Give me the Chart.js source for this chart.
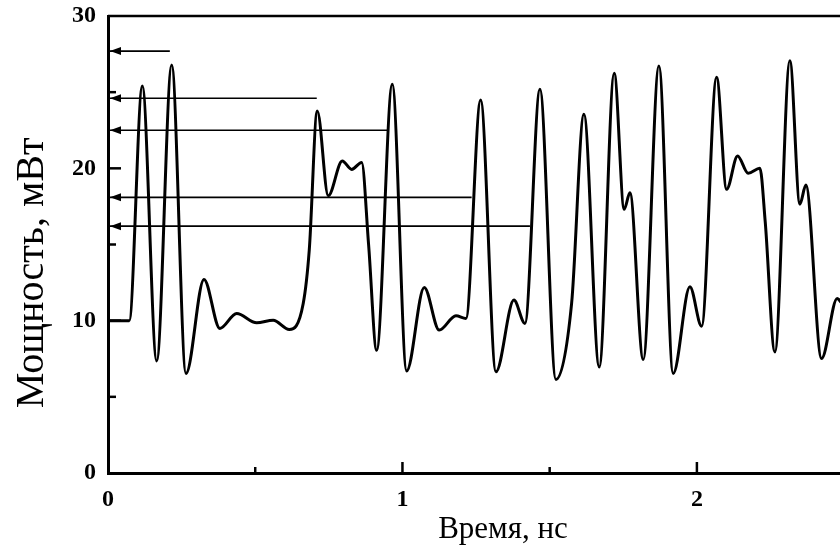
<!DOCTYPE html>
<html>
<head>
<meta charset="utf-8">
<title>Мощность, мВт</title>
<script src="https://cdn.jsdelivr.net/npm/chart.js@4"></script>
<style>
  body { margin: 0; background: #fff; }
  canvas { display: block; }
</style>
</head>
<body>
<canvas id="grafico" width="840" height="547"></canvas>
<script>
// Осциллограмма мощности
const timeNs = [0, 0.072, 0.1165, 0.1654, 0.2163, 0.2649, 0.326, 0.38, 0.437, 0.505,
  0.561, 0.6156, 0.663, 0.6835, 0.7107, 0.748, 0.7956, 0.8275, 0.8615, 0.885,
  0.9124, 0.9654, 1.0143, 1.074, 1.125, 1.1817, 1.2156, 1.2655, 1.3175, 1.3786,
  1.416, 1.4669, 1.5212, 1.5745, 1.6163, 1.6683, 1.7192, 1.7532, 1.7725, 1.8177,
  1.871, 1.9195, 1.9762, 2.016, 2.0669, 2.1009, 2.1382, 2.1742, 2.2139, 2.232,
  2.2649, 2.3158, 2.3497, 2.37, 2.4234, 2.4764, 2.49];
const powerMw = [10.0, 10.0, 25.41, 7.36, 26.79, 6.53, 12.71, 9.49, 10.47, 9.86,
  10.03, 9.42, 11.13, 14.63, 23.76, 18.2, 20.48, 19.93, 20.39, 15.0,
  8.06, 25.52, 6.7, 12.18, 9.38, 10.32, 10.14, 24.49, 6.64, 11.35,
  9.82, 25.19, 6.14, 11.13, 23.55, 6.96, 26.24, 17.31, 18.4, 7.45,
  26.72, 6.53, 12.22, 9.64, 25.98, 18.62, 20.81, 19.67, 20.0, 16.5,
  7.95, 27.07, 17.65, 18.9, 7.52, 11.46, 11.2];

// Стрелки: уровень мощности и где кончается линия
const arrowLevels = [27.7, 24.6, 22.5, 18.1, 16.2];
const arrowEnds = [0.21, 0.709, 0.952, 1.235, 1.433];

// Деления осей
const xTickLabels = [0, 1, 2];
const xMajorTicks = [1, 2];
const xMinorTicks = [0.5, 1.5];
const yTickLabels = [0, 10, 20, 30];
const yMajorTicks = [10, 20];
const yMinorTicks = [5, 15, 25];

const serif = "'Liberation Serif', 'Times New Roman', serif";

const datasets = [{
    label: 'Мощность',
    data: timeNs.map((t, i) => ({ x: t, y: powerMw[i] })),
    borderColor: '#000',
    borderWidth: 3,
    pointRadius: 0,
    cubicInterpolationMode: 'monotone'
}];
arrowLevels.forEach((lvl, i) => {
    datasets.push({
        label: 'Стрелка ' + (i + 1),
        data: [{ x: 0, y: lvl }, { x: arrowEnds[i], y: lvl }],
        borderColor: '#000',
        borderWidth: 1.7,
        pointRadius: 0
    });
});

// Наконечники стрелок, внутренние деления, рамка и подписи осей
const decor = {
    id: 'decor',
    afterDatasetsDraw(chart) {
        const c = chart.ctx;
        const xs = chart.scales.x, ys = chart.scales.y;
        const area = chart.chartArea;
        c.save();
        c.fillStyle = '#000';
        c.strokeStyle = '#000';

        arrowLevels.forEach(lvl => {
            const x0 = xs.getPixelForValue(0) + 2;
            const y0 = ys.getPixelForValue(lvl);
            c.beginPath();
            c.moveTo(x0, y0);
            c.lineTo(x0 + 11, y0 - 4);
            c.lineTo(x0 + 11, y0 + 4);
            c.closePath();
            c.fill();
        });

        c.lineWidth = 2.5;
        const tickX = (vals, len) => vals.forEach(v => {
            const px = xs.getPixelForValue(v);
            c.beginPath();
            c.moveTo(px, area.bottom);
            c.lineTo(px, area.bottom - len);
            c.stroke();
        });
        const tickY = (vals, len) => vals.forEach(v => {
            const py = ys.getPixelForValue(v);
            c.beginPath();
            c.moveTo(area.left, py);
            c.lineTo(area.left + len, py);
            c.stroke();
        });
        tickX(xMajorTicks, 11);
        tickX(xMinorTicks, 6);
        tickY(yMajorTicks, 13);
        tickY(yMinorTicks, 8);

        // верхняя линия рамки
        c.beginPath();
        c.moveTo(area.left, area.top);
        c.lineTo(area.right, area.top);
        c.stroke();

        // подписи осей
        c.textAlign = 'center';
        c.textBaseline = 'alphabetic';
        c.font = '31px ' + serif;
        c.fillText('Время, нс', 503, 538);

        c.translate(43, 273);
        c.rotate(-Math.PI / 2);
        c.font = '40px ' + serif;
        c.fillText('Мощность, мВт', 0, 0);
        c.restore();
    }
};

new Chart(document.getElementById('grafico'), {
    type: 'line',
    data: { datasets: datasets },
    options: {
        responsive: false,
        animation: false,
        layout: { padding: { top: 16, right: 0, bottom: 0, left: 0 } },
        plugins: {
            legend: { display: false },
            tooltip: { enabled: false }
        },
        scales: {
            x: {
                type: 'linear',
                min: 0,
                max: 2.486,
                grid: { display: false, drawTicks: false },
                border: { display: true, color: '#000', width: 3 },
                afterBuildTicks: s => { s.ticks = xTickLabels.map(v => ({ value: v })); },
                afterFit: s => { s.height = 74; s.paddingLeft = 0; s.paddingRight = 0; },
                ticks: {
                    color: '#000',
                    padding: 12,
                    font: { family: serif, size: 24, weight: 'bold' }
                }
            },
            y: {
                min: 0,
                max: 30,
                grid: { display: false, drawTicks: false },
                border: { display: true, color: '#000', width: 3 },
                afterBuildTicks: s => { s.ticks = yTickLabels.map(v => ({ value: v })); },
                afterFit: s => { s.width = 108; s.paddingTop = 0; s.paddingBottom = 0; },
                ticks: {
                    color: '#000',
                    padding: 12,
                    font: { family: serif, size: 24, weight: 'bold' }
                }
            }
        }
    },
    plugins: [decor]
});
</script>
</body>
</html>
